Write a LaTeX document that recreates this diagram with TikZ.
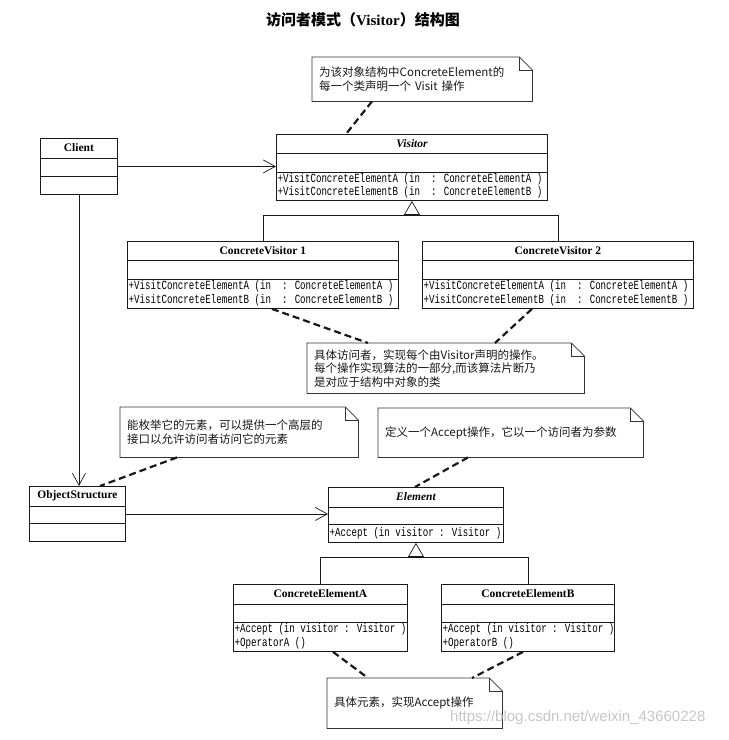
\documentclass[tikz,border=0pt]{standalone}
\usepackage{fontspec}
\setmainfont{Liberation Serif}
\newfontfamily\cjk{Noto Sans CJK SC}
\newfontfamily\monof[FakeStretch=0.73]{Liberation Mono}
\newfontfamily\wmfont{Liberation Sans}
\usetikzlibrary{arrows.meta,calc}

\tikzset{
  classbox/.style={draw=black!90, line width=0.9pt, inner sep=0pt, anchor=north west},
  divider/.style={draw=black!90, line width=0.9pt},
  classname/.style={font=\fontsize{11.5}{13}\selectfont\bfseries, inner sep=0pt},
  abstractname/.style={font=\fontsize{11.5}{13}\selectfont\bfseries\itshape, inner sep=0pt},
  methods/.style={font=\monof\fontsize{12.5}{13.5}\selectfont, align=left, anchor=west, inner sep=0pt},
  notebox/.style={inner xsep=7pt, inner ysep=0pt, anchor=north west, align=left,
    font=\cjk\fontsize{11.5}{13.5}\selectfont, text=black!90},
  noteline/.style={draw=black!80, line width=0.7pt},
  assoc/.style={draw=black!90, line width=0.7pt, -{Straight Barb[length=12pt,width=13pt,line width=0.7pt]}},
  inherit/.style={draw=black!90, line width=0.7pt, -{Triangle[open,length=14pt,width=16pt,line width=0.7pt]}},
  plainline/.style={draw=black!90, line width=0.7pt},
  anchorline/.style={draw=black!90, line width=2.2pt, dash pattern=on 7pt off 4pt},
}

% class frame: name, x, y, w, h, row1, row2
\newcommand{\classframe}[7]{%
  \node[classbox, minimum width=#4pt, minimum height=#5pt] (#1) at (#2,#3) {};
  \draw[divider] ($(#1.north west)+(0,#6)$) -- ($(#1.north east)+(0,#6)$);
  \draw[divider] ($(#1.north west)+(0,#6+#7)$) -- ($(#1.north east)+(0,#6+#7)$);
}
% note: name, x, y, w, text width, h, text
\newcommand{\umlnote}[7]{%
  \node[notebox, minimum width=#4pt, minimum height=#6pt, text width=#5pt] (#1) at (#2,#3) {#7};
  \draw[noteline] (#1.north west) -- ($(#1.north east)+(-13,0)$) -- ($(#1.north east)+(0,13)$)
     -- (#1.south east) -- (#1.south west) -- cycle;
  \draw[noteline] ($(#1.north east)+(-13,0)$) -- ($(#1.north east)+(-13,13)$) -- ($(#1.north east)+(0,13)$);
}

\begin{document}
\begin{tikzpicture}[x=1pt, y=-1pt]
\fill[white] (0,0) rectangle (729,740);
\useasboundingbox (0,0) rectangle (729,740);

% title
\node[inner sep=0pt, font=\fontsize{15}{16}\selectfont] (title) at (363,20)
  {{\cjk\bfseries 访问者模式（}{\bfseries Visitor}{\cjk\bfseries ）结构图}};

% ---------- classes ----------
\classframe{client}{40}{138}{77}{56}{20}{18}
\node[classname] (client-t) at ($(client.north)+(0,10)$) {Client};

\classframe{visitor}{276}{134}{271}{66}{19}{19}
\node[abstractname] (visitor-t) at ($(visitor.north)+(0,9.5)$) {Visitor};
\node[methods] (visitor-m) at ($(visitor.north west)+(1.5,52)$)
  {+VisitConcreteElementA (in~~: ConcreteElementA )\\+VisitConcreteElementB (in~~: ConcreteElementB )};

\classframe{cv1}{127}{241}{271}{67}{19}{19}
\node[classname] (cv1-t) at ($(cv1.north)+(0,9.5)$) {ConcreteVisitor 1};
\node[methods] (cv1-m) at ($(cv1.north west)+(1.5,52.5)$)
  {+VisitConcreteElementA (in~~: ConcreteElementA )\\+VisitConcreteElementB (in~~: ConcreteElementB )};

\classframe{cv2}{422}{241}{271}{67}{19}{19}
\node[classname] (cv2-t) at ($(cv2.north)+(0,9.5)$) {ConcreteVisitor 2};
\node[methods] (cv2-m) at ($(cv2.north west)+(1.5,52.5)$)
  {+VisitConcreteElementA (in~~: ConcreteElementA )\\+VisitConcreteElementB (in~~: ConcreteElementB )};

\classframe{os}{29}{486}{96}{55}{20}{17}
\node[classname] (os-t) at ($(os.north)+(0,10)$) {ObjectStructure};

\classframe{element}{328}{487}{175}{55}{20}{17}
\node[abstractname] (element-t) at ($(element.north)+(0,10)$) {Element};
\node[methods] (element-m) at ($(element.north west)+(1.5,46)$)
  {+Accept (in visitor : Visitor )};

\classframe{cea}{233}{584}{174}{67}{20}{18}
\node[classname] (cea-t) at ($(cea.north)+(0,10)$) {ConcreteElementA};
\node[methods] (cea-m) at ($(cea.north west)+(1.5,52.5)$)
  {+Accept (in visitor : Visitor )\\+OperatorA ()};

\classframe{ceb}{441}{584}{173}{67}{20}{18}
\node[classname] (ceb-t) at ($(ceb.north)+(0,10)$) {ConcreteElementB};
\node[methods] (ceb-m) at ($(ceb.north west)+(1.5,52.5)$)
  {+Accept (in visitor : Visitor )\\+OperatorB ()};

% ---------- notes ----------
\umlnote{note1}{312}{57}{220}{206}{44}{为该对象结构中ConcreteElement的\\每一个类声明一个 Visit 操作}
\umlnote{note2}{307}{343}{277}{263}{50}{具体访问者，实现每个由Visitor声明的操作。\\每个操作实现算法的一部分,而该算法片断乃\\是对应于结构中对象的类}
\umlnote{note3}{120}{407}{238}{224}{50}{能枚举它的元素，可以提供一个高层的\\接口以允许访问者访问它的元素}
\umlnote{note4}{378}{408}{265}{251}{49}{定义一个Accept操作，它以一个访问者为参数}
\umlnote{note5}{327}{678}{175}{161}{50}{具体元素，实现Accept操作}

% ---------- associations ----------
\draw[assoc] (client.east) -- (client.east -| visitor.west);
\draw[assoc] (client.south) -- (client.south |- os.north);
\draw[assoc] (os.east) -- (os.east -| element.west);

% ---------- generalisations ----------
\coordinate (vbar) at ($(visitor.south)+(0,14)$);
\draw[plainline] (cv1.north) -- (cv1.north |- vbar) -- (cv2.north |- vbar) -- (cv2.north);
\draw[inherit] (vbar) -- (visitor.south);

\coordinate (ebar) at ($(element.south)+(0,14)$);
\draw[plainline] (cea.north) -- (cea.north |- ebar) -- (ceb.north |- ebar) -- (ceb.north);
\draw[inherit] (ebar) -- (element.south);

% ---------- note anchors ----------
\draw[anchorline] ($(note1.south west)+(60,0)$) -- ($(visitor.north west)+(70,0)$);
\draw[anchorline] ($(cv1.south west)+(145,0)$) -- ($(note2.north west)+(61,0)$);
\draw[anchorline] ($(cv2.south west)+(110,0)$) -- ($(note2.north west)+(188,0)$);
\draw[anchorline] ($(note3.south west)+(57,0)$) -- ($(os.north west)+(71,0)$);
\draw[anchorline] ($(note4.south west)+(90,0)$) -- ($(element.north west)+(87,0)$);
\draw[anchorline] ($(cea.south west)+(100,0)$) -- ($(note5.north west)+(41,0)$);
\draw[anchorline] ($(ceb.south west)+(82,0)$) -- ($(note5.north west)+(145,0)$);

% watermark
\node[anchor=west, inner sep=0pt, font=\wmfont\fontsize{15}{15}\selectfont, text=black!22] (wm) at (450,718)
  {https://blog.csdn.net/weixin\_43660228};
\end{tikzpicture}
\end{document}
